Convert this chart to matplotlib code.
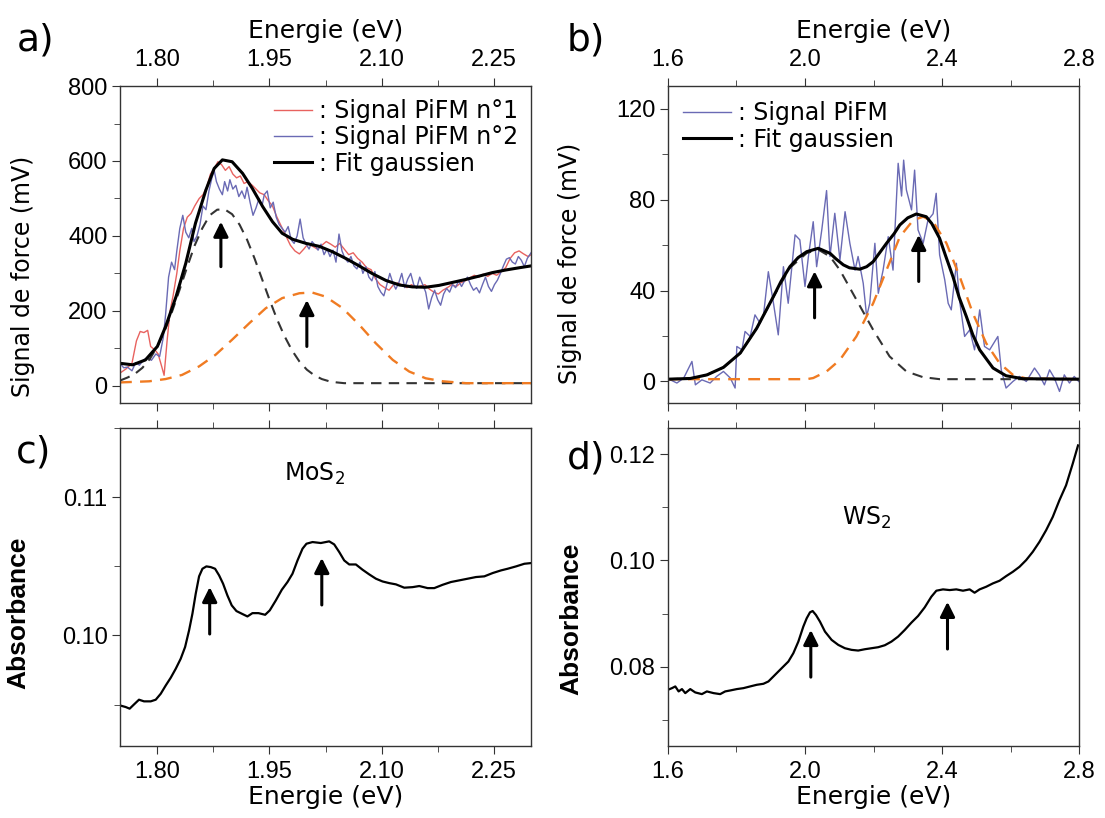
import matplotlib
matplotlib.use('Agg')
import matplotlib.pyplot as plt
from matplotlib.ticker import MultipleLocator, FormatStrFormatter

plt.rcParams['font.family'] = ['DejaVu Sans']

# ---- panel a : PiFM signal, MoS2 ----
e_a_fit = [1.750, 1.767, 1.784, 1.800, 1.811, 1.825, 1.838, 1.851, 1.865, 1.876, 1.887, 1.900,
           1.914, 1.927, 1.941, 1.954, 1.967, 1.981, 1.999, 2.017, 2.034, 2.052, 2.070, 2.088,
           2.106, 2.124, 2.141, 2.159, 2.177, 2.195, 2.213, 2.231, 2.248, 2.266, 2.284, 2.300]
fit_a = [60, 56, 69, 105, 158, 238, 327, 434, 523, 580, 603, 598,
         567, 527, 478, 438, 407, 391, 380, 372, 358, 340, 320, 299,
         281, 269, 264, 263, 268, 276, 284, 293, 302, 309, 315, 320]

e_a_g1 = [1.75, 1.76, 1.77, 1.78, 1.79, 1.80, 1.81, 1.82, 1.83, 1.84, 1.85, 1.86, 1.87, 1.88,
          1.89, 1.90, 1.91, 1.92, 1.93, 1.94, 1.95, 1.96, 1.97, 1.98, 1.99, 2.00, 2.01, 2.02,
          2.03, 2.04, 2.05, 2.30]
g1_a = [14, 22, 32, 48, 72, 105, 148, 200, 258, 318, 375, 420, 455, 470,
        471, 458, 430, 390, 340, 285, 230, 178, 133, 95, 65, 43, 28, 18,
        12, 9, 7, 7]

e_a_g2 = [1.750, 1.789, 1.811, 1.833, 1.856, 1.878, 1.900, 1.923, 1.945, 1.967, 1.990, 2.007,
          2.025, 2.048, 2.070, 2.092, 2.115, 2.137, 2.159, 2.182, 2.213, 2.300]
g2_a = [9, 12, 18, 29, 52, 83, 123, 167, 207, 234, 247, 249,
        238, 207, 163, 114, 69, 38, 20, 12, 7, 7]

e_a_s1 = [1.750, 1.758, 1.766, 1.772, 1.777, 1.782, 1.787, 1.791, 1.797, 1.801, 1.806, 1.809,
          1.813, 1.817, 1.821, 1.826, 1.830, 1.835, 1.840, 1.845, 1.850, 1.856, 1.861, 1.866,
          1.871, 1.876, 1.881, 1.886, 1.891, 1.896, 1.901, 1.906, 1.911, 1.916, 1.921, 1.927,
          1.932, 1.937, 1.943, 1.948, 1.954, 1.960, 1.966, 1.972, 1.978, 1.984, 1.990, 1.996,
          2.002, 2.008, 2.014, 2.020, 2.026, 2.032, 2.038, 2.044, 2.050, 2.056, 2.062, 2.068,
          2.074, 2.080, 2.086, 2.092, 2.098, 2.104, 2.110, 2.116, 2.122, 2.128, 2.134, 2.140,
          2.146, 2.152, 2.158, 2.164, 2.170, 2.176, 2.182, 2.188, 2.194, 2.200, 2.206, 2.212,
          2.218, 2.224, 2.230, 2.236, 2.242, 2.248, 2.254, 2.260, 2.266, 2.272, 2.278, 2.284,
          2.290, 2.296, 2.300]
sig1_a = [34, 45, 60, 120, 145, 142, 148, 105, 95, 85, 50, 28,
          120, 200, 240, 300, 360, 420, 450, 460, 480, 500, 510, 530,
          565, 580, 598, 590, 575, 585, 565, 555, 560, 540, 545, 535,
          525, 515, 510, 495, 480, 450, 425, 400, 375, 360, 352, 365,
          380, 372, 365, 375, 385, 378, 370, 380, 365, 350, 355, 340,
          330, 315, 310, 285, 270, 262, 255, 270, 275, 268, 262, 270,
          262, 266, 270, 258, 250, 245, 255, 262, 270, 265, 275, 280,
          288, 295, 290, 298, 292, 300, 295, 305, 315, 340, 355, 360,
          352, 345, 350]

e_a_s2 = [1.750, 1.755, 1.760, 1.766, 1.771, 1.776, 1.782, 1.787, 1.792, 1.798, 1.803, 1.808,
          1.811, 1.815, 1.819, 1.823, 1.826, 1.830, 1.834, 1.838, 1.842, 1.846, 1.849, 1.853,
          1.857, 1.861, 1.865, 1.869, 1.873, 1.876, 1.879, 1.883, 1.887, 1.890, 1.894, 1.897,
          1.901, 1.905, 1.909, 1.913, 1.917, 1.920, 1.924, 1.928, 1.932, 1.936, 1.940, 1.943,
          1.947, 1.951, 1.955, 1.959, 1.963, 1.967, 1.971, 1.975, 1.979, 1.983, 1.987, 1.991,
          1.995, 1.999, 2.003, 2.007, 2.011, 2.015, 2.019, 2.023, 2.027, 2.031, 2.035, 2.039,
          2.043, 2.047, 2.051, 2.055, 2.059, 2.063, 2.067, 2.071, 2.075, 2.079, 2.083, 2.087,
          2.091, 2.095, 2.099, 2.103, 2.107, 2.111, 2.115, 2.119, 2.123, 2.127, 2.131, 2.135,
          2.139, 2.143, 2.147, 2.151, 2.155, 2.159, 2.163, 2.167, 2.171, 2.175, 2.179, 2.183,
          2.187, 2.191, 2.195, 2.199, 2.203, 2.207, 2.211, 2.215, 2.219, 2.223, 2.227, 2.231,
          2.235, 2.239, 2.243, 2.247, 2.251, 2.255, 2.259, 2.263, 2.267, 2.271, 2.275, 2.279,
          2.283, 2.287, 2.291, 2.295, 2.300]
sig2_a = [60, 48, 50, 40, 62, 55, 70, 75, 68, 85, 78, 130,
          190, 290, 330, 310, 360, 420, 455, 410, 395, 420, 385, 400,
          430, 480, 470, 520, 555, 575, 545, 525, 510, 545, 520, 550,
          525, 535, 505, 520, 500, 530, 490, 455, 475, 500, 480, 510,
          520, 475, 490, 450, 430, 420, 410, 425, 390, 380, 400, 445,
          395, 378, 365, 385, 375, 362, 378, 350, 365, 345, 362, 330,
          405, 360, 340, 330, 345, 320, 312, 330, 300, 318, 290, 280,
          305, 265, 250, 240, 270, 300, 275, 258, 275, 300, 262, 285,
          300, 270, 260, 290, 270, 250, 205, 235, 255, 230, 215, 245,
          260, 250, 270, 262, 280, 265, 280, 290, 270, 255, 262, 248,
          270, 290, 265, 252, 270, 282, 300, 320, 338, 342, 330, 325,
          345, 335, 318, 340, 355]

# ---- panel b : PiFM signal, WS2 ----
e_b_fit = [1.600, 1.665, 1.714, 1.762, 1.811, 1.859, 1.908, 1.930, 1.956, 1.980, 2.005, 2.039,
           2.073, 2.090, 2.112, 2.130, 2.160, 2.180, 2.199, 2.238, 2.260, 2.277, 2.300, 2.325,
           2.354, 2.370, 2.393, 2.410, 2.432, 2.450, 2.471, 2.490, 2.510, 2.549, 2.587, 2.636,
           2.800]
fit_b = [1.0, 1.3, 2.9, 6.2, 12.5, 23.4, 37.4, 44.0, 50.5, 54.5, 57.1, 58.6,
         56.4, 54.0, 51.3, 50.0, 49.4, 50.5, 52.7, 60.8, 65.0, 68.9, 72.0, 73.7,
         72.5, 69.5, 63.0, 55.5, 46.1, 37.0, 28.6, 20.5, 13.9, 5.9, 2.5, 1.2,
         1.0]

e_b_g1 = [1.600, 1.665, 1.714, 1.762, 1.811, 1.859, 1.908, 1.956, 2.005, 2.039, 2.073, 2.102,
          2.150, 2.199, 2.247, 2.296, 2.344, 2.393, 2.800]
g1_b = [1.0, 1.3, 2.9, 6.2, 12.5, 23.4, 37.3, 50.0, 56.5, 58.0, 55.0, 49.0,
        36.0, 22.7, 11.0, 4.4, 1.9, 1.0, 1.0]

e_b_g2 = [1.600, 2.005, 2.024, 2.063, 2.102, 2.150, 2.199, 2.238, 2.277, 2.316, 2.345, 2.374,
          2.413, 2.452, 2.490, 2.529, 2.568, 2.607, 2.646, 2.800]
g2_b = [1.0, 1.0, 1.5, 4.4, 9.5, 19.8, 34.4, 49.0, 63.7, 71.0, 72.5, 70.3,
        60.8, 46.0, 30.0, 16.8, 8.0, 2.9, 1.3, 1.0]

e_b_sig = [1.607, 1.626, 1.646, 1.670, 1.680, 1.699, 1.723, 1.742, 1.762, 1.782, 1.796, 1.801,
           1.816, 1.825, 1.840, 1.854, 1.869, 1.879, 1.893, 1.908, 1.922, 1.937, 1.951, 1.971,
           1.985, 2.000, 2.010, 2.024, 2.034, 2.049, 2.063, 2.073, 2.087, 2.102, 2.117, 2.131,
           2.146, 2.155, 2.170, 2.180, 2.189, 2.204, 2.214, 2.228, 2.243, 2.257, 2.272, 2.282,
           2.288, 2.296, 2.311, 2.320, 2.330, 2.345, 2.359, 2.374, 2.383, 2.393, 2.408, 2.418,
           2.427, 2.442, 2.451, 2.466, 2.481, 2.495, 2.510, 2.524, 2.539, 2.563, 2.573, 2.587,
           2.607, 2.626, 2.646, 2.670, 2.684, 2.699, 2.714, 2.728, 2.743, 2.757, 2.772, 2.786,
           2.799]
sig_b = [0.7, -0.7, 1.5, 8.8, -1.5, 0.7, -0.7, 2.2, 4.4, 1.5, -2.9, 15.4,
         13.9, 22.0, 19.8, 29.3, 25.6, 29.3, 48.3, 34.4, 20.5, 50.5, 34.4, 64.5,
         62.3, 41.8, 55.0, 70.3, 50.5, 66.7, 84.0, 55.0, 74.0, 53.5, 74.7, 60.8,
         49.0, 55.0, 43.2, 28.6, 34.4, 60.8, 38.8, 49.0, 63.7, 49.0, 96.0, 81.6,
         97.4, 84.3, 75.5, 93.0, 66.7, 60.8, 71.0, 73.8, 82.8, 55.7, 44.7, 34.4,
         31.5, 52.0, 35.9, 19.8, 22.7, 13.9, 31.5, 15.4, 13.9, 19.8, 5.1, -2.9,
         0.0, 2.2, 0.0, 5.9, 2.9, -1.5, 5.1, 1.5, -4.4, 2.9, -0.7, 2.2,
         0.0]

# ---- panel c : absorbance MoS2 ----
e_c = [1.7496, 1.7576, 1.7629, 1.7688, 1.7754, 1.7821, 1.7911, 1.7978, 1.8045, 1.8112,
       1.8179, 1.8246, 1.8312, 1.8371, 1.8424, 1.8469, 1.8513, 1.8558, 1.8603, 1.8656,
       1.8714, 1.8772, 1.8826, 1.8879, 1.8937, 1.8995, 1.9058, 1.9129, 1.9205, 1.9272,
       1.9353, 1.9442, 1.9504, 1.9585, 1.9665, 1.9741, 1.9808, 1.9875, 1.9942, 1.9995,
       2.0076, 2.0187, 2.0299, 2.0366, 2.0433, 2.0500, 2.0567, 2.0656, 2.0745, 2.0835,
       2.0924, 2.1013, 2.1103, 2.1192, 2.1303, 2.1415, 2.1504, 2.1616, 2.1705, 2.1817,
       2.1928, 2.2040, 2.2152, 2.2263, 2.2375, 2.2487, 2.2598, 2.2687, 2.2799, 2.2910,
       2.3000]
abs_c = [0.09494, 0.09482, 0.09470, 0.09501, 0.09535, 0.09523, 0.09523, 0.09535, 0.09578,
         0.09638, 0.09694, 0.09759, 0.09831, 0.09916, 0.10036, 0.10157, 0.10301, 0.10427,
         0.10482, 0.10499, 0.10494, 0.10482, 0.10434, 0.10374, 0.10289, 0.10217, 0.10176,
         0.10157, 0.10137, 0.10161, 0.10161, 0.10149, 0.10181, 0.10253, 0.10330, 0.10386,
         0.10446, 0.10542, 0.10627, 0.10663, 0.10675, 0.10668, 0.10680, 0.10658, 0.10603,
         0.10542, 0.10513, 0.10513, 0.10475, 0.10441, 0.10410, 0.10390, 0.10378, 0.10369,
         0.10345, 0.10349, 0.10357, 0.10342, 0.10342, 0.10366, 0.10386, 0.10398, 0.10410,
         0.10422, 0.10427, 0.10451, 0.10470, 0.10482, 0.10499, 0.10518, 0.10523]

# ---- panel d : absorbance WS2 ----
e_d = [1.6000, 1.6117, 1.6214, 1.6311, 1.6408, 1.6505, 1.6650, 1.6796, 1.6990, 1.7136,
       1.7330, 1.7524, 1.7670, 1.7816, 1.8010, 1.8204, 1.8398, 1.8592, 1.8786, 1.8932,
       1.9078, 1.9223, 1.9369, 1.9515, 1.9660, 1.9806, 1.9951, 2.0049, 2.0146, 2.0223,
       2.0320, 2.0437, 2.0583, 2.0777, 2.0971, 2.1165, 2.1359, 2.1553, 2.1748, 2.1942,
       2.2136, 2.2330, 2.2524, 2.2718, 2.2913, 2.3107, 2.3301, 2.3495, 2.3689, 2.3835,
       2.4029, 2.4223, 2.4417, 2.4612, 2.4806, 2.4951, 2.5097, 2.5291, 2.5485, 2.5680,
       2.5874, 2.6068, 2.6262, 2.6456, 2.6650, 2.6845, 2.7039, 2.7233, 2.7427, 2.7621,
       2.7816, 2.7971]
abs_d = [0.07561, 0.07592, 0.07624, 0.07530, 0.07574, 0.07498, 0.07574, 0.07511, 0.07479,
         0.07530, 0.07498, 0.07479, 0.07530, 0.07548, 0.07574, 0.07592, 0.07624, 0.07655,
         0.07674, 0.07718, 0.07812, 0.07906, 0.08000, 0.08094, 0.08251, 0.08470, 0.08753,
         0.08909, 0.09022, 0.09047, 0.08972, 0.08847, 0.08659, 0.08502, 0.08408, 0.08345,
         0.08314, 0.08301, 0.08326, 0.08345, 0.08364, 0.08401, 0.08470, 0.08564, 0.08690,
         0.08828, 0.08953, 0.09116, 0.09317, 0.09430, 0.09455, 0.09442, 0.09455, 0.09430,
         0.09455, 0.09392, 0.09455, 0.09505, 0.09568, 0.09618, 0.09706, 0.09787, 0.09881,
         0.10007, 0.10164, 0.10352, 0.10571, 0.10822, 0.11136, 0.11418, 0.11826, 0.12171]

# arrows (x, y_base, y_tip)
arrows_a = [(1.885, 318, 438), (2.000, 105, 229)]
arrows_b = [(2.028, 28, 48.5), (2.332, 44, 64.5)]
arrows_c = [(1.870, 0.1001, 0.1035), (2.020, 0.1022, 0.1056)]
arrows_d = [(2.017, 0.0780, 0.0869), (2.416, 0.0833, 0.0922)]

red = '#e8625f'
blue = '#6a6ab4'
orange = '#f07b22'
tick_font = 'Liberation Sans'

fig = plt.figure(figsize=(11.05, 8.18), dpi=100)
ax_a = fig.add_axes([0.1086, 0.5073, 0.3720, 0.3875])
ax_b = fig.add_axes([0.6045, 0.5073, 0.3720, 0.3875])
ax_c = fig.add_axes([0.1086, 0.0880, 0.3720, 0.3888])
ax_d = fig.add_axes([0.6045, 0.0880, 0.3720, 0.3888])


def style(ax, top):
    for s in ax.spines.values():
        s.set_color('#333333')
        s.set_linewidth(1.0)
    ax.tick_params(which='both', direction='out', top=True, bottom=True,
                   left=True, right=False, color='#333333', labelsize=17)
    ax.tick_params(which='major', length=6)
    ax.tick_params(which='minor', length=4)
    ax.tick_params(axis='y', pad=3)
    ax.tick_params(axis='x', pad=5)
    if top:
        ax.tick_params(axis='x', labeltop=True, labelbottom=False)
        ax.xaxis.set_label_position('top')
        ax.set_xlabel('Energie (eV)', fontsize=18, labelpad=8)
    else:
        ax.set_xlabel('Energie (eV)', fontsize=18, labelpad=1)
    for lab in ax.get_xticklabels() + ax.get_yticklabels():
        lab.set_family(tick_font)


def arrow(ax, x, y0, y1):
    ax.annotate('', xy=(x, y1), xytext=(x, y0),
                arrowprops=dict(arrowstyle='-|>', color='k', lw=2.2,
                                mutation_scale=22, shrinkA=0, shrinkB=0))


dash = (0, (5, 3.5))

# panel a
ax_a.plot(e_a_s1, sig1_a, color=red, lw=1.0, label=': Signal PiFM n°1')
ax_a.plot(e_a_s2, sig2_a, color=blue, lw=1.0, label=': Signal PiFM n°2')
ax_a.plot(e_a_g1, g1_a, color='#333333', lw=1.5, ls=dash)
ax_a.plot(e_a_g2, g2_a, color=orange, lw=1.7, ls=dash)
ax_a.plot(e_a_fit, fit_a, color='k', lw=2.2, label=': Fit gaussien')
for x, y0, y1 in arrows_a:
    arrow(ax_a, x, y0, y1)
ax_a.set_xlim(1.75, 2.30)
ax_a.set_ylim(-46, 800)
ax_a.xaxis.set_major_locator(MultipleLocator(0.15))
ax_a.xaxis.set_minor_locator(MultipleLocator(0.075))
ax_a.xaxis.set_major_formatter(FormatStrFormatter('%.2f'))
ax_a.yaxis.set_major_locator(MultipleLocator(200))
ax_a.yaxis.set_minor_locator(MultipleLocator(100))
style(ax_a, True)
ax_a.set_ylabel('Signal de force (mV)', fontsize=17)
ax_a.yaxis.set_label_coords(-0.207, 0.40)
ax_a.legend(loc='upper right', bbox_to_anchor=(1.0, 1.0), frameon=False, fontsize=17,
            handlelength=1.6, handletextpad=0.3, labelspacing=0.1, borderaxespad=0.15)

# panel b
ax_b.plot(e_b_sig, sig_b, color=blue, lw=1.0, label=': Signal PiFM')
ax_b.plot(e_b_g1, g1_b, color='#333333', lw=1.5, ls=dash)
ax_b.plot(e_b_g2, g2_b, color=orange, lw=1.7, ls=dash)
ax_b.plot(e_b_fit, fit_b, color='k', lw=2.2, label=': Fit gaussien')
for x, y0, y1 in arrows_b:
    arrow(ax_b, x, y0, y1)
ax_b.set_xlim(1.6, 2.8)
ax_b.set_ylim(-9.5, 130)
ax_b.xaxis.set_major_locator(MultipleLocator(0.4))
ax_b.xaxis.set_minor_locator(MultipleLocator(0.2))
ax_b.xaxis.set_major_formatter(FormatStrFormatter('%.1f'))
ax_b.yaxis.set_major_locator(MultipleLocator(40))
ax_b.yaxis.set_minor_locator(MultipleLocator(20))
style(ax_b, True)
ax_b.set_ylabel('Signal de force (mV)', fontsize=17)
ax_b.yaxis.set_label_coords(-0.209, 0.44)
ax_b.legend(loc='upper left', bbox_to_anchor=(0.0, 1.0), frameon=False, fontsize=17,
            handlelength=2.0, handletextpad=0.3, labelspacing=0.1, borderaxespad=0.25)

# panel c
ax_c.plot(e_c, abs_c, color='k', lw=1.6)
for x, y0, y1 in arrows_c:
    arrow(ax_c, x, y0, y1)
ax_c.set_xlim(1.75, 2.30)
ax_c.set_ylim(0.092, 0.115)
ax_c.xaxis.set_major_locator(MultipleLocator(0.15))
ax_c.xaxis.set_minor_locator(MultipleLocator(0.075))
ax_c.xaxis.set_major_formatter(FormatStrFormatter('%.2f'))
ax_c.yaxis.set_major_locator(MultipleLocator(0.01))
ax_c.yaxis.set_minor_locator(MultipleLocator(0.005))
ax_c.yaxis.set_major_formatter(FormatStrFormatter('%.2f'))
style(ax_c, False)
ax_c.set_ylabel('Absorbance', fontsize=19, fontweight='bold', family='Liberation Sans')
ax_c.yaxis.set_label_coords(-0.219, 0.42)
ax_c.text(2.01, 0.1117, r'MoS$_2$', fontsize=17, ha='center', va='center')

# panel d
ax_d.plot(e_d, abs_d, color='k', lw=1.6)
for x, y0, y1 in arrows_d:
    arrow(ax_d, x, y0, y1)
ax_d.set_xlim(1.6, 2.8)
ax_d.set_ylim(0.065, 0.125)
ax_d.xaxis.set_major_locator(MultipleLocator(0.4))
ax_d.xaxis.set_minor_locator(MultipleLocator(0.2))
ax_d.xaxis.set_major_formatter(FormatStrFormatter('%.1f'))
ax_d.yaxis.set_major_locator(MultipleLocator(0.02))
ax_d.yaxis.set_minor_locator(MultipleLocator(0.01))
ax_d.yaxis.set_major_formatter(FormatStrFormatter('%.2f'))
style(ax_d, False)
ax_d.set_ylabel('Absorbance', fontsize=19, fontweight='bold', family='Liberation Sans')
ax_d.yaxis.set_label_coords(-0.207, 0.40)
ax_d.text(2.18, 0.108, r'WS$_2$', fontsize=17, ha='center', va='center')

# panel letters
for lab, x, y in [('a)', 0.032, 0.951), ('b)', 0.530, 0.951),
                  ('c)', 0.030, 0.447), ('d)', 0.530, 0.440)]:
    fig.text(x, y, lab, fontsize=27, ha='center', va='center')

fig.savefig('out.png', dpi=100)
